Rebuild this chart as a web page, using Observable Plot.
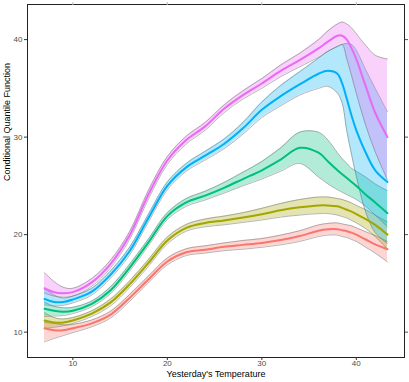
<!DOCTYPE html>
<html><head><meta charset="utf-8">
<script src="https://cdn.jsdelivr.net/npm/d3@7"></script>
<script src="https://cdn.jsdelivr.net/npm/@observablehq/plot@0.6"></script>
<style>body{margin:0;background:#fff;}</style>
</head><body><div id="chart"></div>
<script>
// Yesterday's temperature grid
const temps = [7, 8, 9, 10, 12, 14, 16, 18, 20, 22, 24, 26, 28, 30, 32, 34, 36, 37, 38, 38.5, 39, 39.5, 40, 41, 42, 43.3];
const quantiles = ["0.1", "0.25", "0.5", "0.75", "0.9"];
const colors = ["#F8766D", "#A3A500", "#00BF7D", "#00B0F6", "#E76BF3"];
const xTicks = [10, 20, 30, 40];
const yTicks = [10, 20, 30, 40];

// tau = 0.1
const q10Fit = [10.4, 10.2, 10.2, 10.4, 10.9, 11.8, 13.5, 15.4, 17.25, 18.2, 18.45, 18.75, 18.95, 19.15, 19.45, 19.85, 20.4, 20.55, 20.55, 20.45, 20.35, 20.2, 20.0, 19.5, 19.0, 18.5];
const q10Lo  = [9.0, 9.35, 9.65, 9.95, 10.55, 11.45, 13.15, 15.05, 16.9, 17.85, 18.1, 18.35, 18.5, 18.7, 18.95, 19.3, 19.8, 19.95, 19.95, 19.8, 19.7, 19.5, 19.3, 18.7, 18.1, 17.2];
const q10Hi  = [11.0, 10.9, 10.75, 10.8, 11.25, 12.15, 13.85, 15.75, 17.6, 18.55, 18.85, 19.15, 19.4, 19.6, 19.95, 20.4, 21.0, 21.15, 21.2, 21.1, 21.0, 20.9, 20.7, 20.3, 19.9, 19.3];
// tau = 0.25
const q25Fit = [11.2, 11.0, 11.0, 11.2, 11.9, 13.05, 14.9, 17.1, 19.4, 20.7, 21.2, 21.45, 21.75, 22.1, 22.5, 22.8, 23.0, 23.0, 22.9, 22.75, 22.55, 22.35, 22.1, 21.6, 21.0, 20.0];
const q25Lo  = [10.4, 10.5, 10.65, 10.9, 11.6, 12.7, 14.55, 16.75, 19.05, 20.35, 20.8, 21.0, 21.25, 21.5, 21.8, 22.0, 22.15, 22.15, 22.0, 21.85, 21.7, 21.45, 21.2, 20.6, 19.8, 18.5];
const q25Hi  = [12.0, 11.5, 11.35, 11.5, 12.2, 13.4, 15.25, 17.45, 19.75, 21.05, 21.6, 21.9, 22.25, 22.7, 23.2, 23.6, 23.85, 23.85, 23.7, 23.6, 23.45, 23.25, 23.0, 22.55, 22.0, 21.3];
// tau = 0.5
const q50Fit = [12.4, 12.2, 12.1, 12.2, 12.9, 14.3, 16.6, 19.2, 21.9, 23.3, 24.0, 24.8, 25.7, 26.6, 27.7, 28.9, 28.4, 27.5, 26.6, 26.2, 25.8, 25.4, 25.0, 24.1, 23.3, 22.2];
const q50Lo  = [11.6, 11.65, 11.7, 11.9, 12.6, 13.95, 16.25, 18.85, 21.55, 22.9, 23.55, 24.25, 25.0, 25.7, 26.5, 27.3, 25.9, 25.2, 24.6, 24.35, 24.1, 23.85, 23.6, 22.9, 22.0, 20.8];
const q50Hi  = [13.1, 12.65, 12.5, 12.55, 13.2, 14.65, 16.95, 19.55, 22.25, 23.7, 24.45, 25.35, 26.4, 27.5, 28.9, 30.5, 30.5, 29.7, 28.4, 27.8, 27.3, 26.8, 26.5, 25.9, 25.2, 24.5];
// tau = 0.75
const q75Fit = [13.4, 13.1, 13.1, 13.35, 14.15, 15.9, 18.3, 21.7, 25.0, 26.9, 28.1, 29.3, 30.9, 32.8, 34.2, 35.4, 36.5, 36.8, 36.5, 35.5, 33.9, 32.2, 30.7, 28.4, 26.6, 25.4];
const q75Lo  = [12.8, 12.7, 12.75, 13.0, 13.8, 15.55, 17.9, 21.3, 24.6, 26.5, 27.65, 28.8, 30.3, 32.0, 33.2, 34.3, 35.0, 35.2, 34.5, 33.5, 30.6, 28.2, 26.0, 22.3, 20.2, 19.1];
const q75Hi  = [14.5, 13.8, 13.5, 13.7, 14.5, 16.3, 18.7, 22.1, 25.4, 27.3, 28.55, 29.8, 31.5, 33.6, 35.3, 36.7, 38.1, 38.8, 39.3, 39.5, 39.6, 39.5, 38.9, 36.9, 35.0, 32.6];
// tau = 0.9
const q90Fit = [14.5, 14.1, 14.0, 14.1, 15.1, 17.0, 19.9, 24.1, 27.6, 29.7, 31.1, 32.9, 34.3, 35.5, 36.8, 37.9, 39.1, 39.8, 40.4, 40.4, 40.0, 39.1, 38.0, 35.2, 32.5, 30.0];
const q90Lo  = [14.0, 13.7, 13.6, 13.7, 14.7, 16.6, 19.5, 23.65, 27.2, 29.3, 30.7, 32.5, 33.9, 35.0, 36.2, 37.2, 38.2, 38.8, 39.3, 39.5, 38.0, 36.3, 34.5, 31.2, 28.5, 25.6];
const q90Hi  = [16.1, 15.2, 14.6, 14.5, 15.5, 17.4, 20.3, 24.55, 28.0, 30.1, 31.5, 33.3, 34.75, 36.0, 37.4, 38.6, 40.0, 40.9, 41.6, 41.8, 41.6, 41.2, 40.6, 39.4, 38.4, 38.0];

const fits = [q10Fit, q25Fit, q50Fit, q75Fit, q90Fit];
const los = [q10Lo, q25Lo, q50Lo, q75Lo, q90Lo];
const his = [q10Hi, q25Hi, q50Hi, q75Hi, q90Hi];

const series = quantiles.map((q, k) => temps.map((t, i) => ({
  q, t, fit: fits[k][i], lo: los[k][i], hi: his[k][i]
})));

const curve = "catmull-rom";
const marks = [];
series.forEach((rows, k) => {
  marks.push(Plot.areaY(rows, {x: "t", y1: "lo", y2: "hi", fill: colors[k], fillOpacity: 0.3, curve}));
  marks.push(Plot.line(rows, {x: "t", y: "lo", stroke: "#6e6e6e", strokeWidth: 0.5, curve}));
  marks.push(Plot.line(rows, {x: "t", y: "hi", stroke: "#6e6e6e", strokeWidth: 0.5, curve}));
});
series.forEach((rows, k) => {
  marks.push(Plot.line(rows, {x: "t", y: "fit", stroke: colors[k], strokeWidth: 2, curve}));
});

const chart = Plot.plot({
  width: 409,
  height: 382,
  marginLeft: 27,
  marginRight: 5,
  marginTop: 4,
  marginBottom: 25,
  style: {fontFamily: "'Liberation Sans', Arial, sans-serif", background: "white", overflow: "visible"},
  x: {domain: [5.2, 45.1]},
  y: {domain: [7.4, 43.6]},
  marks: [
    ...marks,
    Plot.frame({stroke: "#222", strokeWidth: 1}),
    Plot.axisX({ticks: xTicks, tickSize: 3, tickPadding: 0, fontSize: 8, color: "#4d4d4d", stroke: "#333", label: null}),
    Plot.axisY({ticks: yTicks, tickSize: 3, tickPadding: 2, fontSize: 8, color: "#4d4d4d", stroke: "#333", label: null}),
    Plot.axisX({anchor: "top", ticks: xTicks, tickSize: 3, tickFormat: () => "", stroke: "#bbb", label: null}),
    Plot.axisY({anchor: "right", ticks: yTicks, tickSize: 3, tickFormat: () => "", stroke: "#555", label: null}),
    Plot.text(["Yesterday's Temperature"], {frameAnchor: "bottom", dy: 19, fontSize: 9, fill: "black", text: d => d}),
    Plot.text(["Conditional Quantile Function"], {frameAnchor: "left", dx: -20, rotate: -90, fontSize: 9, fill: "black", text: d => d})
  ]
});
document.getElementById("chart").appendChild(chart);
</script>
</body></html>
